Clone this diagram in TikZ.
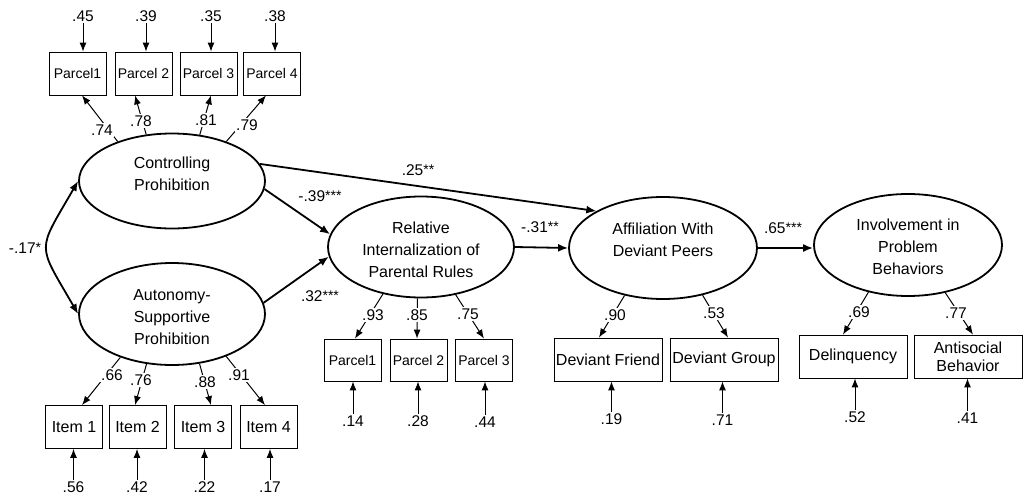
\documentclass[tikz,border=0pt]{standalone}
\usepackage{fontspec}
\setmainfont{Liberation Sans}
\usetikzlibrary{arrows.meta,shapes.geometric}

\newcommand\stars[1]{\raisebox{0.08em}{\fontsize{14}{14}\selectfont #1}}

\begin{document}
\begin{tikzpicture}[x=1pt,y=1pt,
  latent/.style={ellipse, draw, line width=1.8pt, inner sep=0pt},
  lattext/.style={align=center, inner sep=0pt, font=\fontsize{16}{22}\selectfont},
  obs/.style={rectangle, draw, line width=0.8pt, inner sep=0pt, minimum height=43pt,
              align=center, font=\fontsize{16}{18}\selectfont},
  parcel/.style={obs, minimum width=57pt, font=\fontsize{14}{16}\selectfont},
  item/.style={obs, minimum width=57pt},
  wide/.style={obs, minimum width=108pt},
  num/.style={inner sep=1.5pt, font=\fontsize{15.5}{17}\selectfont},
  coef/.style={num, fill=white},
  struct/.style={line width=1.8pt, -{Latex[length=10pt,width=8pt]}},
  load/.style={line width=1pt, -{Latex[length=9pt,width=7pt]}},
  err/.style={line width=1pt, -{Latex[length=9pt,width=7pt]}},
]
\useasboundingbox (0,0) rectangle (1026,-498);

% latent constructs
\node[latent, minimum width=186pt, minimum height=95pt]  (cp) at (172,-181) {};
\node[latent, minimum width=186pt, minimum height=102pt] (ap) at (172,-314) {};
\node[latent, minimum width=186pt, minimum height=101pt] (ri) at (421,-247) {};
\node[latent, minimum width=188pt, minimum height=102pt] (af) at (663,-248) {};
\node[latent, minimum width=188pt, minimum height=102pt] (ip) at (908,-245) {};
\node[lattext] (cpt) at (172,-174) {Controlling\\Prohibition};
\node[lattext] (apt) at (172,-317) {Autonomy-\\Supportive\\Prohibition};
\node[lattext] (rit) at (421,-250) {Relative\\Internalization of\\Parental Rules};
\node[lattext] (aft) at (663,-240) {Affiliation With\\Deviant Peers};
\node[lattext] (ipt) at (908,-247) {Involvement in\\Problem\\Behaviors};

% indicators
\node[parcel] (p1) at (77.5,-73.5) {Parcel1};
\node[parcel] (p2) at (143.5,-73.5) {Parcel 2};
\node[parcel] (p3) at (208.5,-73.5) {Parcel 3};
\node[parcel] (p4) at (272,-73.5) {Parcel 4};

\node[item] (i1) at (74,-427) {Item 1};
\node[item] (i2) at (137.5,-427) {Item 2};
\node[item] (i3) at (203,-427) {Item 3};
\node[item] (i4) at (268.5,-427) {Item 4};

\node[parcel, minimum height=42pt] (q1) at (352.5,-360) {Parcel1};
\node[parcel, minimum height=42pt] (q2) at (418.5,-360) {Parcel 2};
\node[parcel, minimum height=42pt] (q3) at (484,-360) {Parcel 3};

\node[wide] (df) at (608,-359.5) {Deviant Friend};
\node[wide] (dg) at (724,-359.5) {Deviant Group};

\node[wide] (dl) at (853,-356.5) {Delinquency};
\node[wide] (ab) at (968,-356.5) {Antisocial\\Behavior};

% error terms
\node[num] (e1) at (83,-16) {.45};
\node[num] (e2) at (146,-16) {.39};
\node[num] (e3) at (211,-16) {.35};
\node[num] (e4) at (275,-16) {.38};
\foreach \e/\b in {e1/p1,e2/p2,e3/p3,e4/p4}
  \draw[err] (\e.south) -- (\e.south |- \b.north);

\node[num] (f1) at (73.5,-487) {.56};
\node[num] (f2) at (137,-487) {.42};
\node[num] (f3) at (204.5,-487) {.22};
\node[num] (f4) at (270,-487) {.17};
\node[num] (g1) at (353,-421) {.14};
\node[num] (g2) at (418,-421) {.28};
\node[num] (g3) at (485,-422) {.44};
\node[num] (h1) at (611.5,-419) {.19};
\node[num] (h2) at (722.5,-420) {.71};
\node[num] (k1) at (855,-417) {.52};
\node[num] (k2) at (967.5,-418) {.41};
\foreach \e/\b in {f1/i1,f2/i2,f3/i3,f4/i4,g1/q1,g2/q2,g3/q3,h1/df,h2/dg,k1/dl,k2/ab}
  \draw[err] (\e.north) -- (\e.north |- \b.south);

% factor loadings
\draw[load] (cp.144) -- ([xshift=4.5pt]p1.south);
\draw[load] (cp.119) -- ([xshift=-8.5pt]p2.south);
\draw[load] (cp.59)  -- ([xshift=2.5pt]p3.south);
\draw[load] (cp.36)  -- ([xshift=-6pt]p4.south);
\node[coef] (l1) at (102,-130) {.74};
\node[coef] (l2) at (141,-121) {.78};
\node[coef] (l3) at (206,-120) {.81};
\node[coef] (l4) at (247,-125) {.79};

\draw[load] (ap.220) -- ([xshift=8pt]i1.north);
\draw[load] (ap.243) -- ([xshift=-2.5pt]i2.north);
\draw[load] (ap.299) -- ([xshift=8pt]i3.north);
\draw[load] (ap.322) -- ([xshift=-3.5pt]i4.north);
\node[coef] (m1) at (112,-375) {.66};
\node[coef] (m2) at (141,-380) {.76};
\node[coef] (m3) at (205,-382) {.88};
\node[coef] (m4) at (239,-375) {.91};

\draw[load] (ri.231) -- ([xshift=2.5pt]q1.north);
\draw[load] (ri.266) -- ([xshift=-1.5pt]q2.north);
\draw[load] (ri.306) -- (q3.north);
\node[coef] (n1) at (373,-315) {.93};
\node[coef] (n2) at (417,-315) {.85};
\node[coef] (n3) at (468,-314) {.75};

\draw[load] (af.231) -- ([xshift=-9pt]df.north);
\draw[load] (af.310) -- ([xshift=4pt]dg.north);
\node[coef] (o1) at (615,-315) {.90};
\node[coef] (o2) at (714,-313) {.53};

\draw[load] (ip.230) -- ([xshift=-10pt]dl.north);
\draw[load] (ip.308) -- ([xshift=5pt]ab.north);
\node[coef] (r1) at (859,-312) {.69};
\node[coef] (r2) at (956,-313) {.77};

% structural paths
\draw[struct] (cp.11.6) -- (af.151.4);
\draw[struct] (cp.355) -- (ri.172.6);
\draw[struct] (ap.7) -- (ri.186);
\draw[struct] (ri.east) -- (af.west);
\draw[struct] (af.east) -- (af.east -| ip.west);
\draw[line width=1.8pt, {Latex[length=10pt,width=8pt]}-{Latex[length=10pt,width=8pt]}]
  (cp.west) to[out=240, in=120, looseness=1.6] (ap.west);

\node[num] (s1) at (418,-170) {.25\stars{**}};
\node[num] (s2) at (320,-196) {-.39\stars{***}};
\node[num] (s3) at (320,-296) {.32\stars{***}};
\node[num] (s4) at (540,-227) {-.31\stars{**}};
\node[num] (s5) at (783,-228) {.65\stars{***}};
\node[num] (s6) at (25,-248) {-.17\stars{*}};

\end{tikzpicture}
\end{document}
